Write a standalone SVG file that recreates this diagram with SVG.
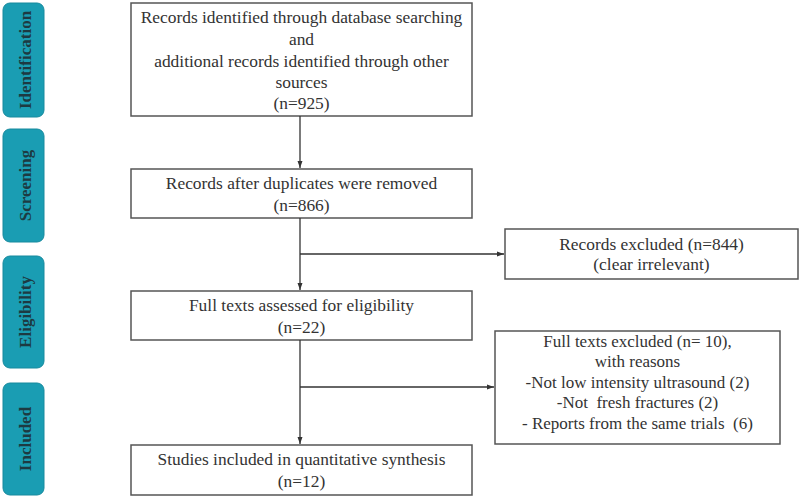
<svg xmlns="http://www.w3.org/2000/svg" width="800" height="498" viewBox="0 0 800 498">
<defs>
<marker id="ah" markerWidth="8" markerHeight="8" refX="7" refY="4" orient="auto" markerUnits="userSpaceOnUse">
<path d="M0,1.5 L7,4 L0,6.5 Z" fill="#333"/>
</marker>
</defs>
<style>
.stage rect{fill:#1a9db3;stroke:#178a9e;stroke-width:1}
.stage text{font-weight:bold;font-size:17px;fill:#1d3a42;text-anchor:middle}
.box rect{fill:#fff;stroke:#555;stroke-width:1.5}
.box text{font-size:17.4px;fill:#333;text-anchor:middle}
#excluded2 text{font-size:17px}
.conn path{fill:none;stroke:#333;stroke-width:1.3}
</style>
<rect width="800" height="498" fill="#fff"/>
<g font-family="'Liberation Serif','Times New Roman','DejaVu Serif',serif">
<g id="stage-identification" class="stage"><rect x="3" y="3" width="41" height="114" rx="7"/><text transform="translate(31,60) rotate(-90)">Identification</text></g>
<g id="stage-screening" class="stage"><rect x="3" y="129" width="41" height="113" rx="7"/><text transform="translate(31,185.5) rotate(-90)">Screening</text></g>
<g id="stage-eligibility" class="stage"><rect x="3" y="256" width="41" height="112" rx="7"/><text transform="translate(31,312) rotate(-90)">Eligibility</text></g>
<g id="stage-included" class="stage"><rect x="3" y="383" width="41" height="112" rx="7"/><text transform="translate(31,439) rotate(-90)">Included</text></g>
<g id="identified" class="box"><rect x="131" y="3" width="341" height="113"/>
<text x="301.5" y="23">Records identified through database searching</text>
<text x="301.5" y="45">and</text>
<text x="301.5" y="67">additional records identified through other</text>
<text x="301.5" y="88">sources</text>
<text x="301.5" y="109">(n=925)</text></g>
<g id="screened" class="box"><rect x="131" y="169" width="341" height="49"/>
<text x="301.5" y="189">Records after duplicates were removed</text>
<text x="301.5" y="211">(n=866)</text></g>
<g id="excluded1" class="box"><rect x="505" y="229" width="293" height="50"/>
<text x="651.5" y="250">Records excluded (n=844)</text>
<text x="651.5" y="270">(clear irrelevant)</text></g>
<g id="eligible" class="box"><rect x="131" y="291" width="341" height="49"/>
<text x="301.5" y="311">Full texts assessed for eligibility</text>
<text x="301.5" y="333">(n=22)</text></g>
<g id="excluded2" class="box"><rect x="495" y="331" width="285" height="113"/>
<text x="637.5" y="347">Full texts excluded (n= 10),</text>
<text x="637.5" y="367">with reasons</text>
<text x="637.5" y="388">-Not low intensity ultrasound (2)</text>
<text x="637.5" y="408" xml:space="preserve">-Not  fresh fractures (2)</text>
<text x="637.5" y="429" xml:space="preserve">- Reports from the same trials  (6)</text></g>
<g id="included" class="box"><rect x="131" y="445" width="341" height="50"/>
<text x="301.5" y="465">Studies included in quantitative synthesis</text>
<text x="301.5" y="487">(n=12)</text></g>
</g>
<g id="connectors" class="conn">
<path d="M300,116 V168" marker-end="url(#ah)"/>
<path d="M300,218 V290" marker-end="url(#ah)"/>
<path d="M300,254 H504" marker-end="url(#ah)"/>
<path d="M300,340 V444" marker-end="url(#ah)"/>
<path d="M300,387 H494" marker-end="url(#ah)"/>
</g>
</svg>
